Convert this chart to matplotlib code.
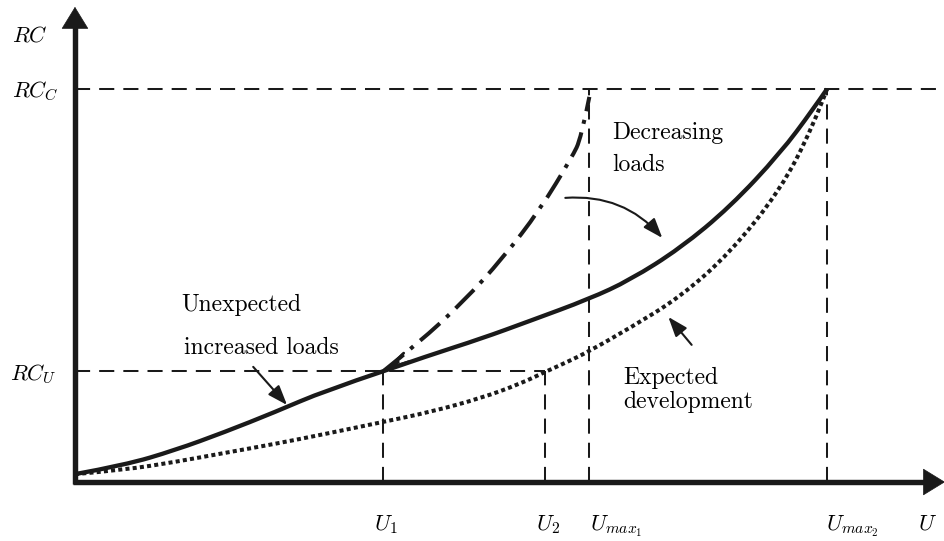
import matplotlib
matplotlib.use("Agg")
import matplotlib.pyplot as plt
from matplotlib.path import Path
from matplotlib.patches import PathPatch

# key levels of the sketch (U in arbitrary units, Umax2 = 10; RC with RC_C = 10)
U1, U2, UMAX1, UMAX2 = 4.10, 6.25, 6.84, 10.0
RC_U, RC_C = 2.82, 10.0

# unexpected increased loads (solid)
u_solid = [0, 0.66, 1.33, 1.99, 2.66, 3.32, 4.10, 4.72, 5.39, 6.05, 6.84, 7.38, 8.05, 8.71, 9.38, 9.81, 10.0]
rc_solid = [0.20, 0.43, 0.81, 1.27, 1.78, 2.32, 2.82, 3.23, 3.64, 4.10, 4.66, 5.14, 5.95, 7.00, 8.37, 9.47, 10.0]

# expected development (dotted)
u_dotted = [0, 0.66, 1.33, 1.99, 2.66, 3.32, 4.10, 4.72, 5.41, 5.92, 6.25, 6.54, 6.82, 7.38, 8.05, 8.71, 9.38, 9.81, 10.0]
rc_dotted = [0.20, 0.31, 0.51, 0.74, 0.97, 1.22, 1.53, 1.78, 2.14, 2.50, 2.80, 3.05, 3.31, 3.92, 4.71, 5.83, 7.43, 9.03, 10.0]

# decreasing loads (dash-dot)
u_dashdot = [4.10, 4.57, 5.16, 5.69, 6.18, 6.61, 6.73, 6.84]
rc_dashdot = [2.82, 3.54, 4.58, 5.70, 6.92, 8.27, 8.75, 9.80]


def smooth_path(xs, ys):
    # quadratic bezier chain using the read points as control polygon
    pts = list(zip(xs, ys))
    verts = [pts[0]]
    codes = [Path.MOVETO]
    for i in range(1, len(pts) - 2):
        mid = ((pts[i][0] + pts[i + 1][0]) / 2, (pts[i][1] + pts[i + 1][1]) / 2)
        verts += [pts[i], mid]
        codes += [Path.CURVE3, Path.CURVE3]
    verts += [pts[-2], pts[-1]]
    codes += [Path.CURVE3, Path.CURVE3]
    return Path(verts, codes)


def curve(ax, xs, ys, **kw):
    p = PathPatch(smooth_path(xs, ys), fill=False, **kw)
    p.set_capstyle('butt')
    ax.add_patch(p)
    return p


plt.rcParams['font.family'] = ['cmr10', 'DejaVu Serif']
plt.rcParams['mathtext.fontset'] = 'cm'
plt.rcParams['axes.unicode_minus'] = False

fig = plt.figure(figsize=(9.45, 5.41), dpi=100)
ax = fig.add_axes([0, 0, 1, 1])
ax.set_xlim(-0.997, 11.569)
ax.set_ylim(-1.501, 12.265)
ax.axis('off')

k = '#1a1a1a'
dash = dict(color=k, lw=1.45, linestyle=(0, (7.5, 4.5)))

# guide lines
ax.plot([0, 11.6], [RC_C, RC_C], **dash)
ax.plot([0, U2], [RC_U, RC_U], **dash)
for u in (U1, U2):
    ax.plot([u, u], [0, RC_U], **dash)
for u in (UMAX1, UMAX2):
    ax.plot([u, u], [0, RC_C], **dash)

# curves
curve(ax, u_dotted, rc_dotted, edgecolor=k, lw=2.9, linestyle=(0, (1, 0.8)))
curve(ax, u_dashdot, rc_dashdot, edgecolor=k, lw=2.9, linestyle=(0, (6.5, 2.2, 1, 2.2)))
cut = u_solid.index(U1)
curve(ax, u_solid[:cut + 1], rc_solid[:cut + 1], edgecolor=k, lw=3.1)
curve(ax, u_solid[cut:], rc_solid[cut:], edgecolor=k, lw=3.1)

# axes with arrow heads
ax.plot([-0.03, 11.3], [0, 0], color=k, lw=3.9, solid_capstyle='butt')
ax.plot([0, 0], [-0.06, 11.6], color=k, lw=3.9, solid_capstyle='butt')
head = dict(arrowstyle='-|>,head_length=0.75,head_width=0.46', color=k, lw=0.5,
            mutation_scale=20, shrinkA=0, shrinkB=0)
ax.annotate('', xy=(11.569, 0), xytext=(11.0, 0), arrowprops=head)
ax.annotate('', xy=(0, 12.09), xytext=(0, 11.2), arrowprops=head)

# axis labels
ms = 16
ax.text(-0.84, 11.37, r'$RC$', fontsize=ms, va='center', ha='left')
ax.text(-0.84, RC_C, r'$RC_C$', fontsize=ms, va='center_baseline', ha='left')
ax.text(-0.86, RC_U, r'$RC_U$', fontsize=ms, va='center_baseline', ha='left')
ax.text(U1 + 0.03, -1.02, r'$U_1$', fontsize=ms, va='center_baseline', ha='center')
ax.text(U2 + 0.04, -1.02, r'$U_2$', fontsize=ms, va='center_baseline', ha='center')
ax.text(UMAX1 + 0.01, -1.02, r'$U_{max_1}$', fontsize=ms, va='center_baseline', ha='left')
ax.text(UMAX2 - 0.01, -1.02, r'$U_{max_2}$', fontsize=ms, va='center_baseline', ha='left')
ax.text(11.21, -1.02, r'$U$', fontsize=ms, va='center_baseline', ha='left')

# annotations
fs = 17
ax.text(7.15, 8.88, 'Decreasing', fontsize=fs, va='center', ha='left')
ax.text(7.15, 8.07, 'loads', fontsize=fs, va='center', ha='left')
ax.text(1.41, 4.50, 'Unexpected', fontsize=fs, va='center', ha='left')
ax.text(1.45, 3.41, 'increased loads', fontsize=fs, va='center', ha='left')
ax.text(7.29, 2.65, 'Expected', fontsize=fs, va='center', ha='left')
ax.text(7.29, 2.04, 'development', fontsize=fs, va='center', ha='left')

pointer = dict(arrowstyle='-|>,head_length=0.6,head_width=0.22', color=k, lw=1.5,
               mutation_scale=20, shrinkA=0, shrinkB=0)
ax.annotate('', xy=(2.82, 1.96), xytext=(2.37, 2.93), arrowprops=pointer)
ax.annotate('', xy=(7.89, 4.20), xytext=(8.20, 3.49), arrowprops=pointer)
ax.annotate('', xy=(7.81, 6.21), xytext=(6.52, 7.23),
            arrowprops=dict(pointer, connectionstyle='arc3,rad=-0.25'))
ax.annotate('', xy=(U1, RC_U), xytext=(4.30, 3.05),
            arrowprops=dict(arrowstyle='->,head_length=0.75,head_width=0.18', color=k, lw=2.0,
                            mutation_scale=20, shrinkA=0, shrinkB=0))

fig.savefig('out.png', dpi=100)
